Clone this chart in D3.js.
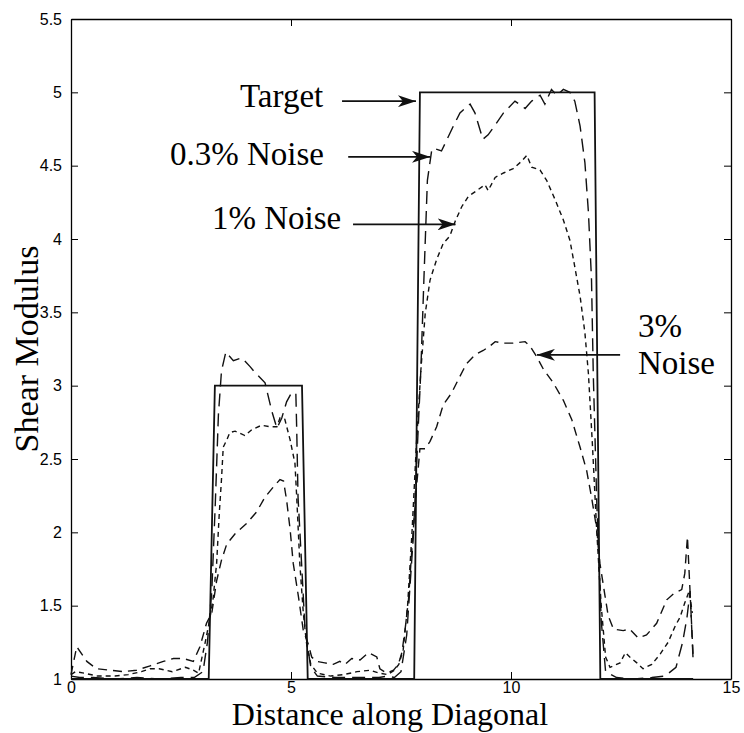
<!DOCTYPE html>
<html>
<head>
<meta charset="utf-8">
<script src="https://cdn.jsdelivr.net/npm/d3@7"></script>
<style>
body { margin: 0; background: #fff; }
</style>
</head>
<body>
<script>
var width = 744,
  height = 733;
var margin = {left: 71, right: 13, top: 19, bottom: 54};

// Target profile along the diagonal
var target = [[0,1],[3.13,1],[3.27,3],[5.25,3],[5.38,1],[7.80,1],[7.93,5],[11.90,5],[12.03,1],[14.14,1]];

// Reconstructions
var noise03 = [[0,1.02],[0.2,1.01],[0.5,1.01],[1.0,1.0],[1.5,1.01],[2.0,1.0],[2.5,1.01],[2.8,1.01],[3.0,1.05],[3.1,1.25],
  [3.2,1.6],[3.28,2.2],[3.35,2.8],[3.42,3.1],[3.52,3.23],[3.69,3.17],[3.88,3.19],[4.07,3.13],[4.18,3.09],[4.41,3.02],
  [4.56,2.83],[4.68,2.71],[4.79,2.78],[4.90,2.89],[5.01,2.95],[5.11,2.95],[5.13,2.70],[5.16,2.24],[5.24,1.79],[5.32,1.33],
  [5.45,1.08],[5.6,1.02],[6.0,1.01],[6.5,1.01],[7.0,1.01],[7.2,1.02],[7.35,1.01],[7.5,1.05],[7.63,1.3],[7.78,1.97],
  [7.89,2.7],[7.95,3.1],[8.02,3.72],[8.1,4.4],[8.2,4.61],[8.23,4.62],[8.42,4.60],[8.69,4.77],[8.84,4.86],[9.07,4.92],
  [9.18,4.86],[9.36,4.68],[9.48,4.71],[9.67,4.79],[9.83,4.86],[10.09,4.94],[10.32,4.89],[10.47,4.94],[10.66,4.98],[10.77,4.92],
  [10.92,5.02],[11.04,4.98],[11.19,5.02],[11.34,5.0],[11.45,4.94],[11.57,4.77],[11.68,4.52],[11.76,4.18],[11.83,3.72],[11.87,3.08],
  [11.95,2.2],[12.05,1.4],[12.15,1.05],[12.4,1.01],[12.8,1.0],[13.2,1.01],[13.5,1.02],[13.75,1.08],[13.9,1.25],[14.0,1.42],
  [14.07,1.6],[14.14,1.12]];

var noise1 = [[0,1.03],[0.1,1.05],[0.3,1.04],[0.6,1.02],[1.0,1.02],[1.3,1.03],[1.6,1.05],[1.8,1.07],[2.0,1.07],[2.3,1.05],
  [2.6,1.08],[2.78,1.06],[2.9,1.04],[3.05,1.25],[3.15,1.4],[3.23,1.55],[3.31,1.79],[3.37,2.13],[3.42,2.36],[3.46,2.58],
  [3.54,2.63],[3.61,2.68],[3.73,2.69],[3.95,2.66],[4.11,2.70],[4.33,2.73],[4.52,2.72],[4.68,2.72],[4.75,2.78],[4.86,2.77],
  [4.98,2.63],[5.09,2.47],[5.13,2.24],[5.2,1.79],[5.28,1.45],[5.35,1.25],[5.45,1.1],[5.6,1.04],[5.9,1.02],[6.2,1.03],
  [6.5,1.05],[6.8,1.06],[7.0,1.04],[7.2,1.03],[7.35,1.06],[7.45,1.1],[7.55,1.2],[7.65,1.5],[7.75,2.0],[7.85,2.6],
  [7.95,3.1],[8.05,3.49],[8.16,3.72],[8.31,3.86],[8.46,3.97],[8.61,4.02],[8.73,4.12],[8.88,4.22],[9.03,4.29],[9.22,4.33],
  [9.41,4.37],[9.48,4.33],[9.64,4.42],[9.83,4.45],[10.05,4.48],[10.24,4.53],[10.36,4.57],[10.47,4.49],[10.66,4.47],[10.81,4.40],
  [11.0,4.27],[11.19,4.13],[11.34,3.99],[11.45,3.81],[11.57,3.61],[11.68,3.36],[11.76,3.08],[11.85,2.6],[11.95,2.0],[12.05,1.5],
  [12.15,1.15],[12.25,1.08],[12.48,1.11],[12.6,1.18],[12.7,1.15],[12.86,1.11],[13.0,1.07],[13.2,1.1],[13.39,1.17],[13.57,1.25],
  [13.73,1.36],[13.84,1.42],[13.95,1.52],[14.05,1.6],[14.12,1.45]];

var noise3 = [[0,1.03],[0.13,1.22],[0.36,1.12],[0.58,1.07],[0.89,1.06],[1.19,1.05],[1.49,1.06],[1.8,1.09],[2.1,1.12],[2.33,1.14],
  [2.55,1.14],[2.78,1.12],[2.93,1.22],[3.08,1.38],[3.2,1.45],[3.31,1.67],[3.42,1.81],[3.54,1.92],[3.73,1.99],[3.99,2.06],
  [4.22,2.14],[4.41,2.24],[4.6,2.31],[4.75,2.36],[4.83,2.35],[4.9,2.22],[4.98,2.02],[5.05,1.79],[5.17,1.56],[5.28,1.33],
  [5.39,1.24],[5.47,1.15],[5.58,1.12],[5.77,1.11],[5.96,1.10],[6.11,1.12],[6.23,1.10],[6.38,1.14],[6.57,1.13],[6.76,1.18],
  [6.95,1.15],[7.02,1.07],[7.17,1.04],[7.33,1.06],[7.44,1.10],[7.52,1.18],[7.59,1.33],[7.67,1.54],[7.75,1.9],[7.85,2.3],
  [7.93,2.57],[8.05,2.57],[8.16,2.62],[8.31,2.72],[8.46,2.87],[8.65,2.95],[8.8,3.04],[8.92,3.11],[8.99,3.15],[9.18,3.21],
  [9.37,3.24],[9.52,3.27],[9.64,3.30],[9.83,3.29],[10.05,3.29],[10.32,3.30],[10.43,3.27],[10.58,3.20],[10.74,3.11],[10.96,3.02],
  [11.19,2.90],[11.38,2.77],[11.57,2.58],[11.72,2.42],[11.83,2.24],[11.95,2.02],[12.02,1.79],[12.14,1.56],[12.21,1.43],[12.33,1.34],
  [12.55,1.33],[12.7,1.34],[12.89,1.28],[13.08,1.30],[13.31,1.38],[13.54,1.54],[13.69,1.58],[13.88,1.61],[13.95,1.72],[14.01,1.97],
  [14.14,1.15]];

var xTicks = [0, 5, 10, 15];
var yTicks = [1, 1.5, 2, 2.5, 3, 3.5, 4, 4.5, 5, 5.5];

var svg = d3.select("body").append("svg")
  .attr("width", width)
  .attr("height", height)
  .style("background", "#fff");

var x = d3.scaleLinear().domain([0, 15]).range([margin.left, width - margin.right]);
var y = d3.scaleLinear().domain([1, 5.5]).range([height - margin.bottom, margin.top]);

var tickFont = "'Liberation Sans', Arial, Helvetica, sans-serif";
var serif = "'Liberation Serif', 'Times New Roman', serif";

// axes, MATLAB style: ticks inside, box all round
function styleAxis(g) {
  g.selectAll("path.domain").attr("stroke", "#000").attr("stroke-width", 1.3);
  g.selectAll(".tick line").attr("stroke", "#000").attr("stroke-width", 1);
  g.selectAll(".tick text").attr("fill", "#000").style("font-family", tickFont).style("font-size", "16px");
}

svg.append("g")
  .attr("transform", "translate(0," + y(1) + ")")
  .call(d3.axisBottom(x).tickValues(xTicks).tickSizeInner(-7).tickSizeOuter(0).tickPadding(3))
  .call(styleAxis);

svg.append("g")
  .attr("transform", "translate(0," + y(5.5) + ")")
  .call(d3.axisTop(x).tickValues(xTicks).tickSizeInner(-7).tickSizeOuter(0).tickFormat(""))
  .call(styleAxis);

svg.append("g")
  .attr("transform", "translate(" + x(0) + ",0)")
  .call(d3.axisLeft(y).tickValues(yTicks).tickSizeInner(-7).tickSizeOuter(0).tickPadding(9).tickFormat(d3.format("")))
  .call(styleAxis);

svg.append("g")
  .attr("transform", "translate(" + x(15) + ",0)")
  .call(d3.axisRight(y).tickValues(yTicks).tickSizeInner(-7).tickSizeOuter(0).tickFormat(""))
  .call(styleAxis);

// curves
var line = d3.line()
  .x(function (d) { return x(d[0]); })
  .y(function (d) { return y(d[1]); });

var series = [
  {data: target, dash: null, w: 1.8},
  {data: noise03, dash: "13,7", w: 1.4},
  {data: noise1, dash: "5,4", w: 1.4},
  {data: noise3, dash: "9,6", w: 1.4}
];

svg.append("g")
  .selectAll("path")
  .data(series)
  .enter()
  .append("path")
  .attr("d", function (d) { return line(d.data); })
  .attr("fill", "none")
  .attr("stroke", "#111")
  .attr("stroke-width", function (d) { return d.w; })
  .attr("stroke-dasharray", function (d) { return d.dash; });

// axis titles
svg.append("text")
  .attr("x", 390)
  .attr("y", 725)
  .attr("text-anchor", "middle")
  .style("font-family", serif)
  .style("font-size", "32px")
  .text("Distance along Diagonal");

svg.append("text")
  .attr("transform", "translate(38," + y(3.25) + ") rotate(-90)")
  .attr("text-anchor", "middle")
  .style("font-family", serif)
  .style("font-size", "34px")
  .text("Shear Modulus");

// annotations with arrows
svg.append("defs").append("marker")
  .attr("id", "head")
  .attr("viewBox", "0 0 18 12")
  .attr("refX", 18)
  .attr("refY", 6)
  .attr("markerWidth", 18)
  .attr("markerHeight", 12)
  .attr("markerUnits", "userSpaceOnUse")
  .attr("orient", "auto")
  .append("path")
  .attr("d", "M0,0 L18,6 L0,12 L5,6 Z")
  .attr("fill", "#111");

var notes = [
  {lines: ["Target"], tx: 240, ty: 107, from: [6.16, 4.94], to: [7.84, 4.94]},
  {lines: ["0.3% Noise"], tx: 170, ty: 165, from: [6.30, 4.56], to: [8.16, 4.56]},
  {lines: ["1% Noise"], tx: 212, ty: 229, from: [6.41, 4.10], to: [8.74, 4.10]},
  {lines: ["3%", "Noise"], tx: 638, ty: 337, from: [12.48, 3.21], to: [10.59, 3.21]}
];

notes.forEach(function (n) {
  var t = svg.append("text")
    .attr("x", n.tx)
    .attr("y", n.ty)
    .style("font-family", serif)
    .style("font-size", "33px");
  n.lines.forEach(function (s, i) {
    t.append("tspan").attr("x", n.tx).attr("dy", i ? 37 : 0).text(s);
  });
  svg.append("line")
    .attr("x1", x(n.from[0])).attr("y1", y(n.from[1]))
    .attr("x2", x(n.to[0])).attr("y2", y(n.to[1]))
    .attr("stroke", "#111")
    .attr("stroke-width", 1.8)
    .attr("marker-end", "url(#head)");
});
</script>
</body>
</html>
